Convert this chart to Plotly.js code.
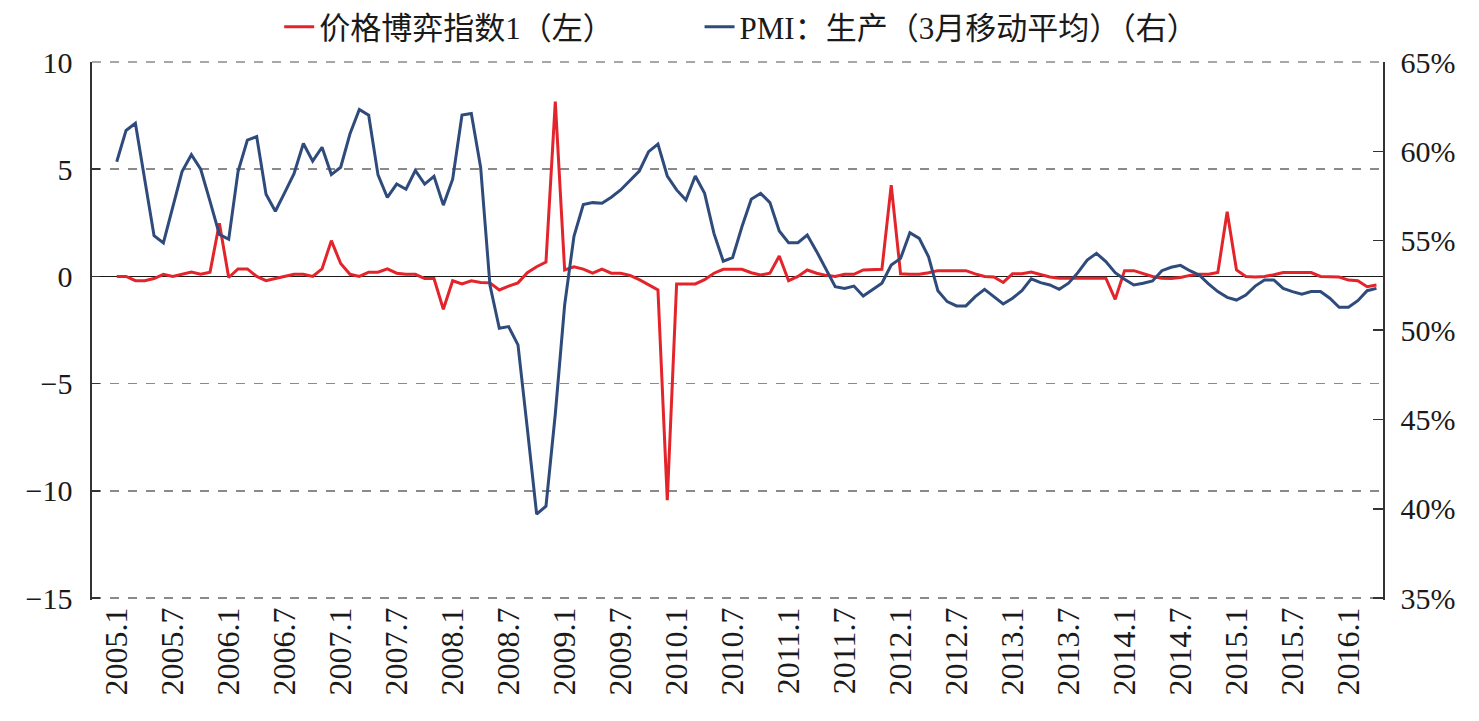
<!DOCTYPE html>
<html>
<head>
<meta charset="utf-8">
<script src="https://cdn.plot.ly/plotly-3.0.1.min.js"></script>
<style>
  html, body { margin: 0; padding: 0; background: #ffffff; }
  #chart { width: 1479px; height: 721px; }
</style>
</head>
<body>
<div id="chart"></div>
<script>
// Monthly observations, 2005.1 – 2016.4
const startYear = 2005;
const monthCount = 136;

// Tick labels shown on the x axis (every six months)
const tickLabels = [
  '2005.1', '2005.7', '2006.1', '2006.7', '2007.1', '2007.7',
  '2008.1', '2008.7', '2009.1', '2009.7', '2010.1', '2010.7',
  '2011.1', '2011.7', '2012.1', '2012.7', '2013.1', '2013.7',
  '2014.1', '2014.7', '2015.1', '2015.7', '2016.1'
];

// Left and right axis tick values and labels
const leftTicks = [-15, -10, -5, 0, 5, 10];
const rightTicks = [35, 40, 45, 50, 55, 60, 65];
const rightTickLabels = ['35%', '40%', '45%', '50%', '55%', '60%', '65%'];

// 价格博弈指数1 (left axis)
const priceGameIndex = [
  0.00, 0.00, -0.20, -0.20, -0.10, 0.10, 0.00, 0.10, 0.20, 0.10, 0.20, 2.48,
  -0.05, 0.35, 0.35, 0.00, -0.20, -0.10, 0.00, 0.10, 0.10, 0.00, 0.35, 1.67,
  0.60, 0.10, 0.00, 0.20, 0.20, 0.35, 0.15, 0.10, 0.10, -0.10, -0.10, -1.53,
  -0.20, -0.35, -0.20, -0.28, -0.30, -0.63, -0.45, -0.30, 0.17, 0.45, 0.67, 8.15,
  0.30, 0.45, 0.34, 0.15, 0.34, 0.15, 0.15, 0.05, -0.15, -0.40, -0.63, -10.43,
  -0.35, -0.35, -0.35, -0.15, 0.15, 0.33, 0.33, 0.33, 0.17, 0.07, 0.15, 0.95,
  -0.20, 0.00, 0.30, 0.15, 0.05, 0.00, 0.10, 0.10, 0.30, 0.33, 0.33, 4.26,
  0.12, 0.10, 0.10, 0.17, 0.27, 0.27, 0.27, 0.27, 0.12, 0.00, -0.03, -0.28,
  0.12, 0.12, 0.20, 0.08, -0.03, -0.08, -0.08, -0.08, -0.08, -0.08, -0.08, -1.07,
  0.27, 0.27, 0.12, 0.00, -0.08, -0.10, -0.05, 0.05, 0.10, 0.10, 0.18, 3.02,
  0.30, 0.00, -0.03, 0.00, 0.08, 0.18, 0.18, 0.18, 0.18, 0.00, -0.03, -0.03,
  -0.17, -0.20, -0.48, -0.40
];

// PMI：生产, 3-month moving average, % (right axis)
const pmiProduction = [
  59.42, 61.17, 61.57, 58.50, 55.28, 54.88, 56.85, 58.87, 59.81, 59.00, 57.20, 55.35,
  55.08, 58.87, 60.63, 60.83, 57.60, 56.65, 57.69, 58.75, 60.44, 59.45, 60.23, 58.70,
  59.11, 60.98, 62.34, 62.02, 58.68, 57.42, 58.17, 57.88, 58.93, 58.17, 58.60, 56.99,
  58.44, 62.03, 62.12, 59.10, 52.50, 50.10, 50.19, 49.17, 44.50, 39.70, 40.14, 45.30,
  51.40, 55.25, 57.02, 57.13, 57.10, 57.43, 57.84, 58.40, 58.90, 59.98, 60.41, 58.62,
  57.84, 57.28, 58.62, 57.65, 55.41, 53.85, 54.05, 55.78, 57.32, 57.65, 57.13, 55.54,
  54.89, 54.89, 55.32, 54.40, 53.40, 52.43, 52.33, 52.46, 51.90, 52.24, 52.62, 53.64,
  54.01, 55.45, 55.13, 54.10, 52.20, 51.59, 51.35, 51.35, 51.87, 52.28, 51.87, 51.46,
  51.78, 52.20, 52.86, 52.65, 52.52, 52.28, 52.62, 53.21, 53.92, 54.29, 53.83, 53.21,
  52.84, 52.52, 52.62, 52.75, 53.32, 53.51, 53.62, 53.32, 53.08, 52.58, 52.15, 51.83,
  51.68, 51.96, 52.46, 52.80, 52.80, 52.33, 52.15, 52.00, 52.15, 52.15, 51.78, 51.27,
  51.27, 51.64, 52.20, 52.33
];

// Category labels "YYYY.M" for each month
const months = [];
for (let k = 0; k < monthCount; k++) {
  const y = startYear + Math.floor(k / 12);
  const m = (k % 12) + 1;
  months.push(y + '.' + m);
}

const serif = 'Liberation Serif, "Times New Roman", "Noto Sans CJK SC", serif';
const legendFont = 'Liberation Serif, "Noto Sans CJK SC", serif';
const gridColor = '#8a8a8a';

const traces = [
  {
    x: months,
    y: priceGameIndex,
    type: 'scatter',
    mode: 'lines',
    name: '价格博弈指数1（左）',
    line: { color: '#e3242b', width: 3 },
    xaxis: 'x',
    yaxis: 'y',
    legend: 'legend'
  },
  {
    x: months,
    y: pmiProduction,
    type: 'scatter',
    mode: 'lines',
    name: 'PMI：生产（3月移动平均）（右）',
    line: { color: '#2f4b7c', width: 3 },
    xaxis: 'x',
    yaxis: 'y2',
    legend: 'legend2'
  }
];

// One legend per series, side by side above the plot
const legendBase = {
  orientation: 'h',
  xanchor: 'left',
  y: 1.065,
  yanchor: 'middle',
  font: { family: legendFont, size: 31, color: '#1a1a1a' },
  bgcolor: 'rgba(0,0,0,0)'
};

// Dashed grid line along the top edge of the plot area
const edgeGrid = [{
  type: 'line',
  xref: 'paper', x0: 0, x1: 1,
  yref: 'paper', y0: 1, y1: 1,
  line: { color: gridColor, width: 1.5, dash: 'dash' },
  layer: 'above'
}];

const layout = {
  width: 1479,
  height: 721,
  margin: { l: 92, r: 96, t: 62, b: 121, autoexpand: false },
  paper_bgcolor: '#ffffff',
  plot_bgcolor: 'rgba(0,0,0,0)',
  font: { family: serif, color: '#1a1a1a', size: 30 },
  showlegend: true,
  legend: Object.assign({}, legendBase, { x: 0.145 }),
  legend2: Object.assign({}, legendBase, { x: 0.4706 }),
  shapes: edgeGrid,
  xaxis: {
    type: 'category',
    range: [-2.65, 135.7],
    tickmode: 'array',
    tickvals: tickLabels,
    ticktext: tickLabels,
    tickangle: -90,
    ticks: '',
    showgrid: false,
    zeroline: false,
    showline: false,
    tickfont: { family: serif, size: 32, color: '#1a1a1a' },
    fixedrange: true
  },
  yaxis: {
    // small pad below -15 keeps that grid line inside the plot area
    range: [-15.09, 10],
    tickmode: 'array',
    tickvals: leftTicks,
    showgrid: true,
    gridcolor: gridColor,
    gridwidth: 1.5,
    griddash: 'dash',
    zeroline: true,
    zerolinecolor: '#1a1a1a',
    zerolinewidth: 1.6,
    showline: true,
    linecolor: '#333333',
    linewidth: 1.6,
    ticks: 'inside',
    ticklen: 8,
    tickwidth: 1.6,
    tickcolor: '#333333',
    ticklabelstandoff: 12,
    tickfont: { family: serif, size: 30, color: '#1a1a1a' },
    fixedrange: true
  },
  yaxis2: {
    range: [34.892, 65],
    overlaying: 'y',
    side: 'right',
    tickmode: 'array',
    tickvals: rightTicks,
    ticktext: rightTickLabels,
    showgrid: false,
    zeroline: false,
    showline: true,
    linecolor: '#333333',
    linewidth: 1.6,
    ticks: 'inside',
    ticklen: 10,
    tickwidth: 1.6,
    tickcolor: '#333333',
    ticklabelstandoff: 10,
    tickfont: { family: serif, size: 30, color: '#1a1a1a' },
    fixedrange: true
  }
};

Plotly.newPlot('chart', traces, layout, { displayModeBar: false, staticPlot: true });
</script>
</body>
</html>
